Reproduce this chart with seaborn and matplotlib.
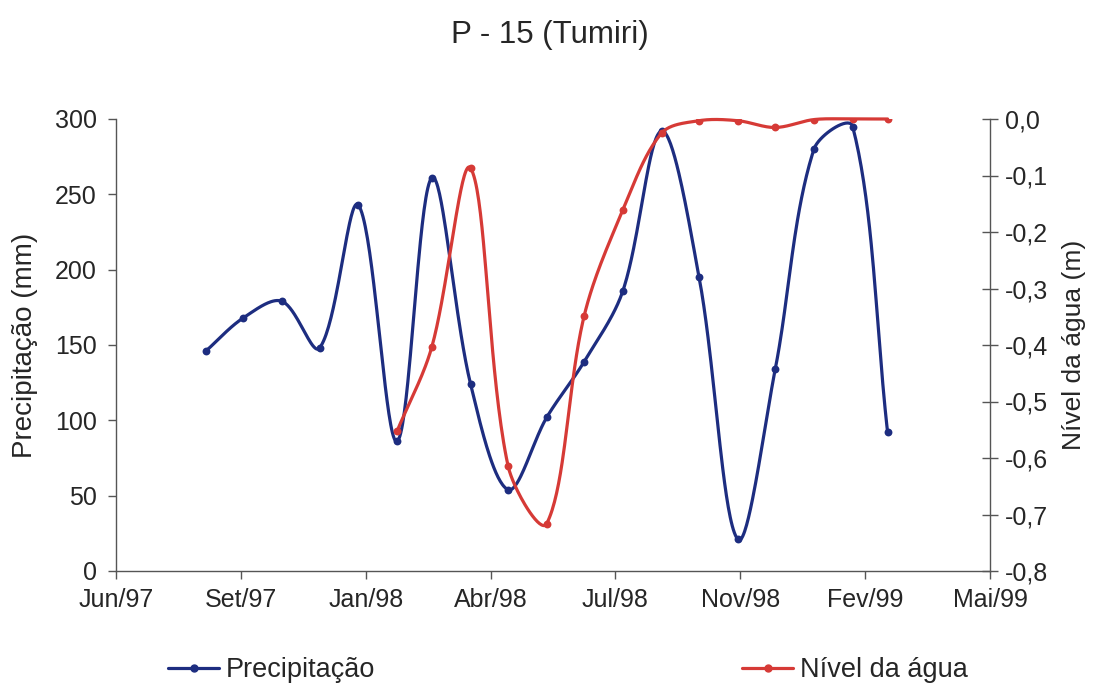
import numpy as np
import pandas as pd
import matplotlib
matplotlib.use("Agg")
import matplotlib.pyplot as plt
import matplotlib.dates as mdates
import seaborn as sns

# Monthly readings, P-15 (Tumiri)
months = pd.date_range("1997-08-31", "1999-02-28", freq="ME")
precipitacao = [146, 168, 179, 148, 243, 86, 261, 124, 54, 102,
                139, 186, 292, 195, 21, 134, 280, 295, 92]

nivel_meses = pd.date_range("1998-01-31", "1999-02-28", freq="ME")
nivel_agua = [-0.553, -0.403, -0.087, -0.614, -0.716, -0.348, -0.161,
              -0.025, -0.003, -0.003, -0.015, -0.001, 0.0, 0.0]

tick_labels = ["Jun/97", "Set/97", "Jan/98", "Abr/98", "Jul/98",
               "Nov/98", "Fev/99", "Mai/99"]
axis_start = pd.Timestamp("1997-06-20")
tick_step_days = 100

COR_PREC = "#1d2d80"
COR_NIVEL = "#d63a36"

FIG_W, FIG_H = 1093, 687
AX_L, AX_R, AX_T, AX_B = 116, 990, 119, 571


def smooth_curve(x, y, sx, sy, n=40):
    """Bezier smoothing through every point; handle lengths follow the
    on-screen length of the neighbouring segments (sx, sy = px per unit)."""
    P = np.column_stack([np.asarray(x, float) * sx, np.asarray(y, float) * sy])
    m = len(P)
    seg = np.hypot(*np.diff(P, axis=0).T)
    c_out = np.zeros_like(P)
    c_in = np.zeros_like(P)
    for i in range(m):
        prev = P[max(i - 1, 0)]
        nxt = P[min(i + 1, m - 1)]
        tan = nxt - prev
        d0 = seg[i - 1] if i > 0 else 0.0
        d1 = seg[i] if i < m - 1 else 0.0
        tot = d0 + d1 if d0 + d1 > 0 else 1.0
        c_out[i] = P[i] + tan * (d1 / tot) / 3
        c_in[i] = P[i] - tan * (d0 / tot) / 3
    t = np.linspace(0, 1, n)[:, None]
    pts = []
    for i in range(m - 1):
        b = (1 - t) ** 3 * P[i] + 3 * (1 - t) ** 2 * t * c_out[i] \
            + 3 * (1 - t) * t ** 2 * c_in[i + 1] + t ** 3 * P[i + 1]
        pts.append(b if i == 0 else b[1:])
    pts = np.vstack(pts)
    return pts[:, 0] / sx, pts[:, 1] / sy


sns.set_style("ticks")
plt.rcParams["font.family"] = ["Liberation Sans", "DejaVu Sans"]

fig = plt.figure(figsize=(FIG_W / 100, FIG_H / 100), dpi=100)
ax = fig.add_axes([AX_L / FIG_W, 1 - AX_B / FIG_H,
                   (AX_R - AX_L) / FIG_W, (AX_B - AX_T) / FIG_H])
ax2 = ax.twinx()

x0 = mdates.date2num(axis_start)
ticks = [x0 + k * tick_step_days for k in range(len(tick_labels))]
px_per_day = (AX_R - AX_L) / (ticks[-1] - ticks[0])
px_per_mm = (AX_B - AX_T) / 300
px_per_m = (AX_B - AX_T) / 0.8

x_prec = mdates.date2num(months)
x_niv = mdates.date2num(nivel_meses)

sx, sy = smooth_curve(x_prec, precipitacao, px_per_day, px_per_mm)
sns.lineplot(x=sx, y=sy, ax=ax, color=COR_PREC, lw=2.3, sort=False,
             estimator=None, legend=False)
sns.scatterplot(x=x_prec, y=precipitacao, ax=ax, color=COR_PREC, s=32,
                edgecolor=COR_PREC, linewidth=0, zorder=3, legend=False)

nx, ny = smooth_curve(x_niv, nivel_agua, px_per_day, px_per_m)
sns.lineplot(x=nx, y=ny, ax=ax2, color=COR_NIVEL, lw=2.3, sort=False,
             estimator=None, legend=False)
sns.scatterplot(x=x_niv, y=nivel_agua, ax=ax2, color=COR_NIVEL, s=32,
                edgecolor=COR_NIVEL, linewidth=0, zorder=3, legend=False)
for line in ax.lines + ax2.lines:
    line.set_clip_on(False)

ax.set_xlim(ticks[0], ticks[-1])
ax.set_xticks(ticks)
ax.set_xticklabels(tick_labels)

ax.set_ylim(0, 300)
ax.set_yticks(np.arange(0, 301, 50))
ax2.set_ylim(-0.8, 0.0)
yt2 = np.round(np.arange(-0.8, 0.01, 0.1), 1)
ax2.set_yticks(yt2)
ax2.set_yticklabels([f"{abs(v) if v == 0 else v:.1f}".replace(".", ",")
                     for v in yt2])

spine_color = "#555555"
for a in (ax, ax2):
    for s in a.spines.values():
        s.set_color(spine_color)
        s.set_linewidth(1.0)
    a.spines["top"].set_visible(False)
ax.spines["right"].set_visible(False)
ax2.spines["left"].set_visible(False)
ax2.spines["bottom"].set_visible(False)

ax.tick_params(axis="y", direction="out", length=6, width=1, color=spine_color,
               labelsize=18, pad=8)
ax.tick_params(axis="x", direction="out", length=6, width=1, color=spine_color,
               labelsize=18, pad=6)
ax2.tick_params(axis="y", direction="inout", length=12, width=1,
                color=spine_color, labelsize=18, pad=5)

ax.set_xlabel("")
ax.set_ylabel("Precipitação (mm)", fontsize=20)
ax2.set_ylabel("Nível da água (m)", fontsize=19)
ax.yaxis.set_label_coords((38 - AX_L) / (AX_R - AX_L), 0.5)
ax2.yaxis.set_label_coords((1062 - AX_L) / (AX_R - AX_L), 0.5)

fig.text(550 / FIG_W, 1 - 35 / FIG_H, "P - 15 (Tumiri)", ha="center",
         va="center", fontsize=22.5)

h1 = plt.Line2D([], [], color=COR_PREC, lw=2.3, marker="o", markersize=5)
h2 = plt.Line2D([], [], color=COR_NIVEL, lw=2.3, marker="o", markersize=5)
leg_kw = dict(loc="center left", frameon=False, fontsize=19.5,
              handlelength=1.9, handletextpad=0.25, borderpad=0,
              borderaxespad=0)
fig.legend([h1], ["Precipitação"],
           bbox_to_anchor=(168 / FIG_W, 1 - 670 / FIG_H), **leg_kw)
fig.legend([h2], ["Nível da água"],
           bbox_to_anchor=(742 / FIG_W, 1 - 670 / FIG_H), **leg_kw)

fig.savefig("out.png", dpi=100)
